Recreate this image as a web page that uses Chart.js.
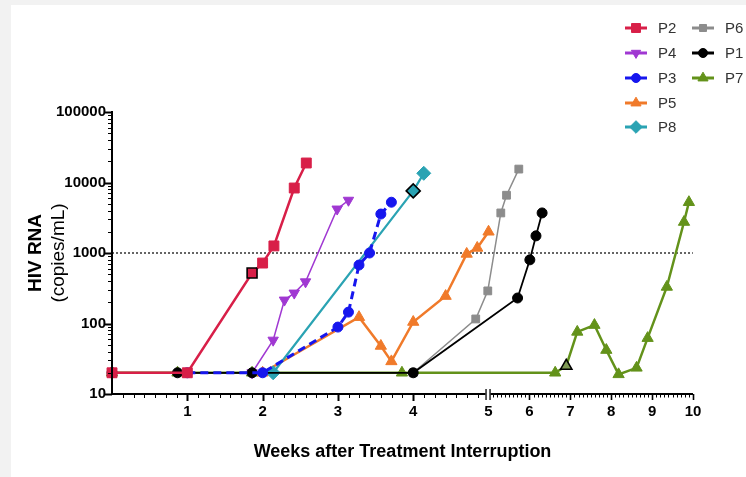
<!DOCTYPE html>
<html>
<head>
<meta charset="utf-8">
<script src="https://cdn.jsdelivr.net/npm/chart.js@4.4.1/dist/chart.umd.min.js"></script>
<style>
    html, body { margin: 0; padding: 0; background: #f2f2f2; }
    #wrap { position: absolute; left: 11px; top: 5px; width: 735px; height: 472px; background: #fff; }
</style>
</head>
<body>
<div id="wrap"><canvas id="hivChart"></canvas></div>
<script>
// weeks after treatment interruption / HIV RNA copies per mL
const p2Weeks  = [0, 1.0, 1.86, 2.0, 2.15, 2.42, 2.58];
const p2Copies = [20, 20, 520, 720, 1260, 8350, 18900];

const p4Weeks  = [1.86, 2.14, 2.29, 2.42, 2.57, 2.99, 3.14];
const p4Copies = [20, 58, 215, 270, 390, 4200, 5600];

const p3Weeks  = [1.0, 2.0, 3.0, 3.14, 3.28, 3.42, 3.57, 3.71];
const p3Copies = [20, 20, 89, 145, 675, 1000, 3570, 5250];

const p5Weeks  = [2.0, 3.28, 3.57, 3.71, 4.0, 4.43, 4.71, 4.85, 5.0];
const p5Copies = [20, 123, 48, 29, 105, 245, 970, 1180, 2000];

const p8Weeks  = [2.14, 4.0, 4.14];
const p8Copies = [20, 7600, 13500];

const p6Weeks  = [4.0, 4.83, 4.99, 5.30, 5.44, 5.74];
const p6Copies = [20, 116, 290, 3700, 6600, 15500];

const p1Weeks  = [0, 0.87, 1.86, 4.0, 5.71, 6.01, 6.16, 6.31];
const p1Copies = [20, 20, 20, 20, 230, 800, 1750, 3700];

const p7Weeks  = [0, 0.87, 1.86, 3.85, 6.63, 6.90, 7.17, 7.59, 7.88, 8.18, 8.62, 8.89, 9.36, 9.78, 9.90];
const p7Copies = [20, 20, 20, 20, 20, 25, 76, 95, 42, 19, 23.5, 62, 330, 2750, 5250];

const thresholdCopies = 1000;

const yTicks = [10, 100, 1000, 10000, 100000];
const xTickWeeks = [1, 2, 3, 4, 5, 6, 7, 8, 9, 10];
const xTickLabels = ['1', '2', '3', '4', '5', '6', '7', '8', '9', '10'];

// x axis is broken at week 5, the part after it is squeezed
const breakWeek = 5;
const rightScale = 0.543;
const maxWeek = 10;

function toAxis(w) {
    return w <= breakWeek ? w : breakWeek + (w - breakWeek) * rightScale;
}

const FONT = "'Liberation Sans', Arial, Helvetica, sans-serif";
Chart.defaults.font.family = FONT;

const series = [
    {label: 'P2', weeks: p2Weeks, copies: p2Copies, color: '#d81f48', style: 'rect', radius: 7, width: 2.5, order: 1, outlined: 2},
    {label: 'P4', weeks: p4Weeks, copies: p4Copies, color: '#a038d2', style: 'triangle', rotation: 180, radius: 6, width: 1.5, order: 4},
    {label: 'P3', weeks: p3Weeks, copies: p3Copies, color: '#1616ee', style: 'circle', radius: 5, width: 3, dash: [8, 5], order: 2},
    {label: 'P5', weeks: p5Weeks, copies: p5Copies, color: '#f07a2a', style: 'triangle', radius: 6.5, width: 2.5, order: 6},
    {label: 'P8', weeks: p8Weeks, copies: p8Copies, color: '#2aa3b3', style: 'rectRot', radius: 7, width: 2.2, order: 5, outlined: 1},
    {label: 'P6', weeks: p6Weeks, copies: p6Copies, color: '#8c8c8c', style: 'rect', radius: 5.5, width: 1.5, order: 7},
    {label: 'P1', weeks: p1Weeks, copies: p1Copies, color: '#000000', style: 'circle', radius: 5, width: 1.8, order: 3},
    {label: 'P7', weeks: p7Weeks, copies: p7Copies, color: '#63921a', style: 'triangle', radius: 6.5, width: 2.5, order: 8, outlined: 5, outlineFill: '#7f9a55'}
];

const legendColumns = [['P2', 'P4', 'P3', 'P5', 'P8'], ['P6', 'P1', 'P7']];

function makeDataset(s) {
    return {
        label: s.label,
        data: s.weeks.map((w, i) => ({x: toAxis(w), y: s.copies[i]})),
        borderColor: s.color,
        backgroundColor: s.color,
        borderWidth: s.width,
        borderDash: s.dash || [],
        pointStyle: s.style,
        pointRotation: s.rotation || 0,
        pointRadius: s.radius,
        pointBackgroundColor: c => c.dataIndex === s.outlined ? (s.outlineFill || s.color) : s.color,
        pointBorderColor: c => c.dataIndex === s.outlined ? '#000' : s.color,
        pointBorderWidth: c => c.dataIndex === s.outlined ? 1.6 : 1,
        tension: 0,
        clip: false,
        order: s.order
    };
}

const datasets = series.map(makeDataset);
datasets.push({
    label: 'threshold',
    data: [{x: toAxis(0), y: thresholdCopies}, {x: toAxis(maxWeek), y: thresholdCopies}],
    borderColor: '#000',
    borderWidth: 1.2,
    borderDash: [2, 2],
    pointRadius: 0,
    order: 9
});

const decorPlugin = {
    id: 'decor',
    afterDraw(chart) {
        const {ctx, chartArea: a, scales: {x, y}} = chart;
        ctx.save();
        ctx.strokeStyle = '#000';

        // y axis line + ticks
        ctx.lineWidth = 2;
        ctx.beginPath();
        ctx.moveTo(a.left, a.top - 1);
        ctx.lineTo(a.left, a.bottom + 1);
        ctx.stroke();
        for (let d = 10; d <= 100000; d *= 10) {
            for (let k = 1; k < 10; k++) {
                if (d * k > 100000) break;
                const py = Math.round(y.getPixelForValue(d * k)) + 0.5;
                const major = k === 1;
                ctx.lineWidth = major ? 2 : 1;
                ctx.beginPath();
                ctx.moveTo(a.left, py);
                ctx.lineTo(a.left - (major ? 7 : 4), py);
                ctx.stroke();
            }
        }

        // x axis line with break
        const bx = x.getPixelForValue(toAxis(breakWeek));
        ctx.lineWidth = 2;
        ctx.beginPath();
        ctx.moveTo(a.left - 1, a.bottom);
        ctx.lineTo(bx - 3, a.bottom);
        ctx.moveTo(bx + 2, a.bottom);
        ctx.lineTo(a.right, a.bottom);
        ctx.stroke();
        ctx.lineWidth = 1.3;
        ctx.beginPath();
        ctx.moveTo(bx - 2.5, a.bottom - 5);
        ctx.lineTo(bx - 2.5, a.bottom + 6);
        ctx.moveTo(bx + 1.5, a.bottom - 5);
        ctx.lineTo(bx + 1.5, a.bottom + 6);
        ctx.stroke();

        // x ticks: days before the break, tenths of a week after it
        for (let i = 1; i < 35; i++) {
            const px = Math.round(x.getPixelForValue(toAxis(i / 7))) + 0.5;
            const major = i % 7 === 0;
            ctx.lineWidth = major ? 2 : 1;
            ctx.beginPath();
            ctx.moveTo(px, a.bottom);
            ctx.lineTo(px, a.bottom + (major ? 7 : 4));
            ctx.stroke();
        }
        for (let j = 1; j <= 50; j++) {
            const px = Math.round(x.getPixelForValue(toAxis(breakWeek + j / 10))) + 0.5;
            const major = j % 10 === 0;
            ctx.lineWidth = major ? 1.6 : 1;
            ctx.beginPath();
            ctx.moveTo(px, a.bottom);
            ctx.lineTo(px, a.bottom + (major ? 6 : 3.5));
            ctx.stroke();
        }

        // axis titles
        ctx.fillStyle = '#000';
        ctx.textAlign = 'center';
        ctx.textBaseline = 'middle';
        ctx.font = 'bold 18px ' + FONT;
        ctx.fillText('Weeks after Treatment Interruption', (a.left + a.right) / 2, 447);

        ctx.save();
        ctx.translate(0, (a.top + a.bottom) / 2);
        ctx.rotate(-Math.PI / 2);
        ctx.font = 'bold 19px ' + FONT;
        ctx.fillText('HIV RNA', 0, 25);
        ctx.font = '19px ' + FONT;
        ctx.fillText('(copies/mL)', 0, 48);
        ctx.restore();

        // legend, two columns
        const colX = [625, 692];
        const rowY = [23, 48, 73, 98, 122];
        ctx.font = '15px ' + FONT;
        ctx.textAlign = 'left';
        legendColumns.forEach((col, ci) => {
            col.forEach((name, ri) => {
                const s = series.find(t => t.label === name);
                const cx = colX[ci], cy = rowY[ri];
                ctx.strokeStyle = s.color;
                ctx.fillStyle = s.color;
                ctx.lineWidth = 3;
                ctx.setLineDash([]);
                ctx.beginPath();
                ctx.moveTo(cx - 11, cy);
                ctx.lineTo(cx + 11, cy);
                ctx.stroke();
                ctx.lineWidth = 1;
                Chart.helpers.drawPoint(ctx, {
                    pointStyle: s.style,
                    rotation: s.rotation || 0,
                    radius: s.radius * 0.9,
                    borderWidth: 1
                }, cx, cy);
                ctx.fillStyle = '#333';
                ctx.fillText(name, cx + 22, cy + 1);
            });
        });
        ctx.restore();
    }
};

const ctx = document.getElementById('hivChart').getContext('2d');
const hivChart = new Chart(ctx, {
    type: 'line',
    data: {datasets: datasets},
    options: {
        responsive: true,
        maintainAspectRatio: false,
        animation: false,
        events: [],
        layout: {padding: {top: 107, right: 53, left: 0, bottom: 0}},
        plugins: {legend: {display: false}, tooltip: {enabled: false}},
        scales: {
            x: {
                type: 'linear',
                min: toAxis(0),
                max: toAxis(maxWeek),
                grid: {display: false, drawTicks: false},
                border: {display: false},
                afterBuildTicks: scale => {
                    scale.ticks = xTickWeeks.map(w => ({value: toAxis(w)}));
                },
                afterFit: scale => { scale.height = 83; },
                ticks: {
                    autoSkip: false,
                    maxRotation: 0,
                    padding: 9,
                    color: '#000',
                    font: {size: 15, weight: 'bold'},
                    callback: (v, i) => xTickLabels[i]
                }
            },
            y: {
                type: 'logarithmic',
                min: 10,
                max: 100000,
                grid: {display: false, drawTicks: false},
                border: {display: false},
                afterBuildTicks: scale => {
                    scale.ticks = yTicks.map(v => ({value: v}));
                },
                afterFit: scale => { scale.width = 101; },
                ticks: {
                    autoSkip: false,
                    padding: 6,
                    color: '#000',
                    font: {size: 15, weight: 'bold'},
                    callback: v => String(v)
                }
            }
        }
    },
    plugins: [decorPlugin]
});
</script>
</body>
</html>
